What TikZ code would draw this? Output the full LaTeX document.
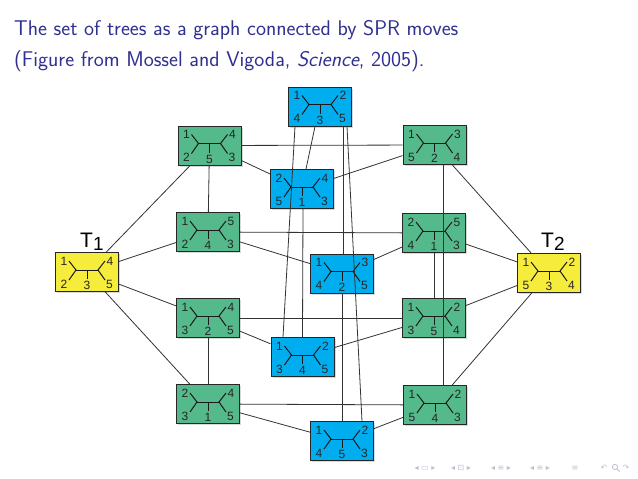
\documentclass[tikz,border=0pt]{standalone}
\usepackage{fontspec}
\newfontfamily\labfont{Liberation Sans}
\newfontfamily\symfont{DejaVu Sans}
\usetikzlibrary{shadows}
\definecolor{titleblue}{RGB}{48,48,145}
\definecolor{boxgreen}{RGB}{84,186,140}
\definecolor{boxblue}{RGB}{0,174,239}
\definecolor{boxyellow}{RGB}{245,236,60}
\definecolor{navgray}{RGB}{190,190,210}
\tikzset{
  tbox/.style={draw=black!85, line width=0.9pt, minimum width=63pt, minimum height=39pt, inner sep=0pt,
    drop shadow={shadow xshift=1.5pt, shadow yshift=-1.5pt, opacity=0.3}},
  tline/.style={draw=black!90, line width=1pt},
  tlab/.style={font=\labfont\fontsize{12}{12}\selectfont, text=black!85, inner sep=0pt},
  conn/.style={draw=black!80, line width=0.8pt},
  bigT/.style={font=\labfont\fontsize{21}{21}\selectfont, inner sep=0pt, anchor=base west},
  titletext/.style={font=\sffamily\fontsize{21.3}{25}\selectfont, text=titleblue, inner sep=0pt, anchor=base west},
  navsym/.style={font=\symfont\fontsize{8}{8}\selectfont, text=navgray, inner sep=0pt}
}
\newcommand\treebox[8]{%
  \node[tbox, fill=#3] (#1) at (#2) {};
  \begin{scope}[shift={(#1.center)}]
    \draw[tline] (-18,-11) -- (-11,-2) -- (-18,8);
    \draw[tline] (-11,-2) -- (11,-2);
    \draw[tline] (18,-11) -- (11,-2) -- (18,8);
    \draw[tline] (0,-2) -- (0,7);
    \node[tlab] (#1-a) at (-23,-11) {#4};
    \node[tlab] (#1-b) at (-23,12) {#5};
    \node[tlab] (#1-c) at (0,13.5) {#6};
    \node[tlab] (#1-d) at (23,-11) {#7};
    \node[tlab] (#1-e) at (22.5,12) {#8};
  \end{scope}}
\begin{document}
\begin{tikzpicture}[x=1pt,y=-1pt]
\useasboundingbox (0,0) rectangle (638,479);
\node[titletext] (title1) at (14,35.7) {The set of trees as a graph connected by SPR moves};
\node[titletext] (title2) at (14,66.7) {(Figure from Mossel and Vigoda, \textit{Science}, 2005).};

\treebox{B1}{320,106.5}{boxblue}{1}{4}{3}{2}{5}
\treebox{G1}{209.5,145.5}{boxgreen}{1}{2}{5}{4}{3}
\treebox{G2}{434.5,145}{boxgreen}{1}{5}{2}{3}{4}
\treebox{B2}{302,189}{boxblue}{2}{5}{1}{4}{3}
\treebox{G3}{208,232}{boxgreen}{1}{2}{4}{5}{3}
\treebox{G4}{434,233}{boxgreen}{2}{4}{1}{5}{3}
\treebox{B3}{342,273.5}{boxblue}{1}{4}{2}{3}{5}
\treebox{T1}{87,272}{boxyellow}{1}{2}{3}{4}{5}
\treebox{T2}{549,273}{boxyellow}{1}{5}{3}{2}{4}
\treebox{G5}{208,318}{boxgreen}{1}{3}{2}{4}{5}
\treebox{G6}{434,318}{boxgreen}{1}{3}{5}{2}{4}
\treebox{B4}{302.5,357}{boxblue}{1}{3}{4}{2}{5}
\treebox{G7}{208,404}{boxgreen}{2}{3}{1}{4}{5}
\treebox{G8}{435,405}{boxgreen}{1}{5}{4}{2}{3}
\treebox{B5}{342,441}{boxblue}{1}{4}{5}{2}{3}

\node[bigT] (T1lab) at (80,247) {T\raisebox{-3.5pt}{\fontsize{19}{19}\selectfont 1}};
\node[bigT] (T2lab) at (541,247) {T\raisebox{-3.5pt}{\fontsize{19}{19}\selectfont 2}};

% connectors
\draw[conn] (T1) -- (G1);
\draw[conn] (T1) -- (G3);
\draw[conn] (T1) -- (G5);
\draw[conn] (T1) -- (G7);
\draw[conn] (T2) -- (G2);
\draw[conn] (T2) -- (G4);
\draw[conn] (T2) -- (G6);
\draw[conn] (T2) -- (G8);
\draw[conn] (G1) -- (G2);
\draw[conn] (G3) -- (G4);
\draw[conn] (G5) -- (G6);
\draw[conn] (G7) -- (G8);
\draw[conn] (G1) -- (G3);
\draw[conn] (G5) -- (G7);
\draw[conn] (G4) -- (G6);
\draw[conn] ([xshift=8.5pt]G2.south) -- ([xshift=8pt]G8.north);
\draw[conn] (G1) -- (B2);
\draw[conn] (B2) -- (G2);
\draw[conn] (G3) -- (B3);
\draw[conn] (B3) -- (G4);
\draw[conn] (G5) -- (B4);
\draw[conn] (B4) -- (G6);
\draw[conn] (G7) -- (B5);
\draw[conn] (B5) -- (G8);
\draw[conn] ([xshift=-5pt]B1.south) -- ([xshift=4pt]B2.north);
\draw[conn] ([xshift=-25pt]B1.south) -- ([xshift=-19.5pt]B4.north);
\draw[conn] ([xshift=23pt]B1.south) -- ([xshift=1pt]B3.north);
\draw[conn] ([xshift=0pt]B3.south) -- (B5.north);
\draw[conn] ([xshift=27pt]B1.south) -- ([xshift=20pt]B5.north);
\draw[conn] ([xshift=1pt]B2.south) -- (B4.north);

% navigation symbols
\node[navsym] (nav1) at (425,468) {◂ ▭ ▸};
\node[navsym] (nav2) at (461,468) {◂ ⊡ ▸};
\node[navsym] (nav3) at (501,468) {◂ ≡ ▸};
\node[navsym] (nav4) at (540,468) {◂ ≡ ▸};
\node[navsym] (nav5) at (575,468) {≡};
\node[navsym] (nav6a) at (604,468) {↶};
\node[navsym] (nav6c) at (626,468) {↷};
\draw[navgray, line width=0.8pt] (615,467) circle (2.6);
\draw[navgray, line width=0.8pt] (617,469) -- (619.5,471.5);
\end{tikzpicture}
\end{document}
